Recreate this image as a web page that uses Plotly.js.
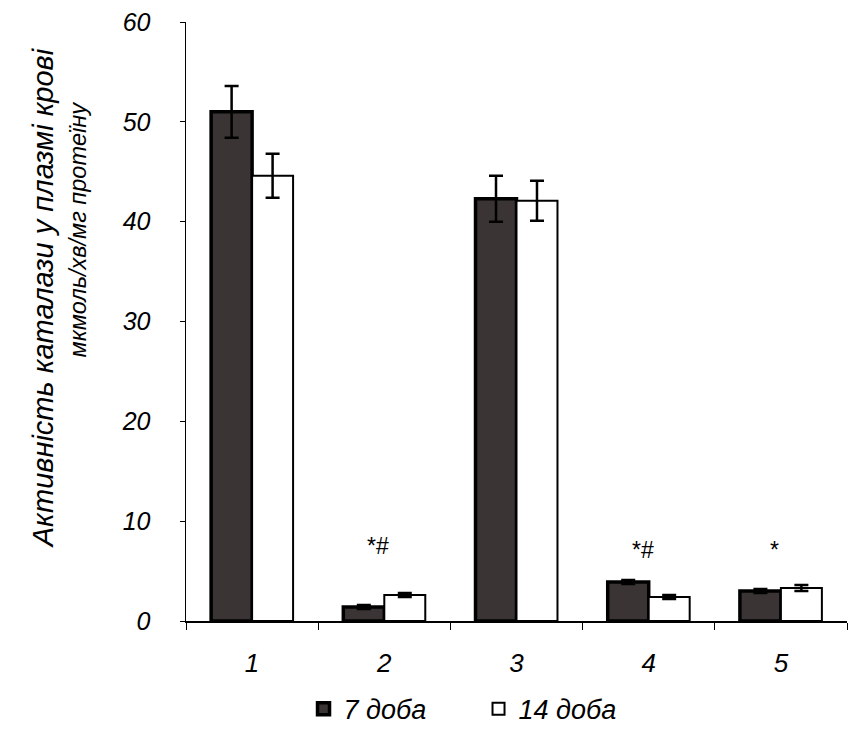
<!DOCTYPE html>
<html>
<head>
<meta charset="utf-8">
<script src="https://cdn.plot.ly/plotly-3.0.1.min.js"></script>
<style>html,body{margin:0;padding:0;background:#fff;}#chart{width:855px;height:733px;}</style>
</head>
<body>
<div id="chart"></div>
<script>
const categories = ['1', '2', '3', '4', '5'];
const day7 = [51.0, 1.4, 42.3, 3.9, 3.0];
const day7Err = [2.6, 0.2, 2.3, 0.2, 0.2];
const day14 = [44.6, 2.6, 42.1, 2.4, 3.3];
const day14Err = [2.2, 0.2, 2.0, 0.2, 0.3];
const seriesNames = ['7 доба', '14 доба'];
const markCats = ['2', '4', '5'];
const markTexts = ['*#', '*#', '*'];
const markY = [6.0, 5.6, 5.6];
const yTitleLines = ['Активність каталази у плазмі крові', 'мкмоль/хв/мг протеїну'];

const fontFam = '"Liberation Sans", Arial, sans-serif';

const traces = [
  {
    type: 'bar', name: seriesNames[0], x: categories, y: day7,
    marker: {color: '#3b3434', line: {color: '#000', width: 3.5}},
    error_y: {type: 'data', array: day7Err, visible: true, color: '#000', thickness: 2.5, width: 7}
  },
  {
    type: 'bar', name: seriesNames[1], x: categories, y: day14,
    marker: {color: '#ffffff', line: {color: '#000', width: 2}},
    error_y: {type: 'data', array: day14Err, visible: true, color: '#000', thickness: 2.5, width: 7}
  }
];

const annotations = markCats.map((c, i) => ({
  x: categories.indexOf(c), y: markY[i], xref: 'x', yref: 'y', text: markTexts[i], showarrow: false,
  font: {family: fontFam, size: 23, color: '#000'}, xshift: -6, yanchor: 'bottom'
}));
annotations.push({
  xref: 'paper', yref: 'paper', x: -0.216, y: 0.539, text: yTitleLines[0], textangle: -90,
  showarrow: false, xanchor: 'center', yanchor: 'middle',
  font: {family: fontFam, size: 29, style: 'italic', color: '#000'}
});
annotations.push({
  xref: 'paper', yref: 'paper', x: -0.164, y: 0.653, text: yTitleLines[1], textangle: -90,
  showarrow: false, xanchor: 'center', yanchor: 'middle',
  font: {family: fontFam, size: 23.5, style: 'italic', color: '#000'}
});

const layout = {
  width: 855, height: 733,
  margin: {l: 186, r: 8, t: 22, b: 112, autoexpand: false},
  paper_bgcolor: '#fff', plot_bgcolor: '#fff',
  barmode: 'group', bargap: 0.38, bargroupgap: 0,
  showlegend: true,
  legend: {orientation: 'h', xref: 'container', yref: 'container', x: 0.355, y: 0.066,
    xanchor: 'left', yanchor: 'top', entrywidth: 130, entrywidthmode: 'pixels',
    font: {family: fontFam, size: 27, style: 'italic', color: '#000'}},
  xaxis: {
    type: 'category', range: [-0.5, 4.5],
    showline: true, linecolor: '#000', linewidth: 1.5,
    ticks: 'outside', tickson: 'boundaries', ticklen: 7, tickcolor: '#000',
    ticklabelstandoff: 18,
    tickfont: {family: fontFam, size: 26, style: 'italic', color: '#000'},
    showgrid: false, zeroline: false
  },
  yaxis: {
    range: [0, 60], dtick: 10,
    showline: true, linecolor: '#000', linewidth: 1.5,
    ticks: 'outside', ticklen: 5, tickcolor: '#000', ticklabelstandoff: 24,
    tickfont: {family: fontFam, size: 25, style: 'italic', color: '#000'},
    showgrid: false, zeroline: false
  },
  annotations: annotations
};

Plotly.newPlot('chart', traces, layout, {displayModeBar: false, staticPlot: true});
</script>
</body>
</html>
